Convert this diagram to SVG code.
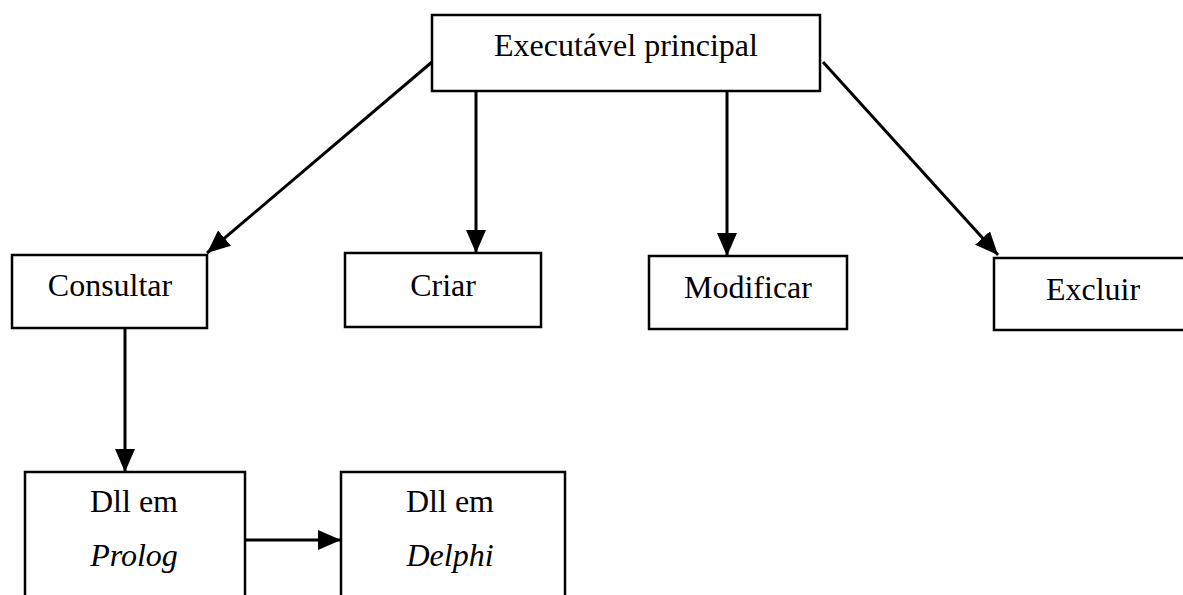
<svg xmlns="http://www.w3.org/2000/svg" width="1183" height="595" viewBox="0 0 1183 595">
<style>
.box{fill:#fff;stroke:#000;stroke-width:2.5}
.t{font-family:"Liberation Serif","Times New Roman",serif;font-size:32px;fill:#000;text-anchor:middle}
.i{font-style:italic}
.c{stroke:#000;stroke-width:3;fill:none}
</style>
<defs>
<marker id="ah" markerUnits="userSpaceOnUse" markerWidth="24" markerHeight="22" refX="23" refY="10" orient="auto">
<path d="M0,0 L23,10 L0,20 Z" fill="#000"/>
</marker>
</defs>
<rect width="1183" height="595" fill="#fff"/>
<g id="connectors">
<line class="c" x1="432" y1="62" x2="207" y2="253" marker-end="url(#ah)"/>
<line class="c" x1="476" y1="91" x2="476" y2="253" marker-end="url(#ah)"/>
<line class="c" x1="727" y1="91" x2="727" y2="256" marker-end="url(#ah)"/>
<line class="c" x1="823" y1="62" x2="998" y2="255" marker-end="url(#ah)"/>
<line class="c" x1="125" y1="328" x2="125" y2="472" marker-end="url(#ah)"/>
<line class="c" x1="245" y1="540" x2="341" y2="540" marker-end="url(#ah)"/>
</g>
<g id="main">
<rect class="box" x="432" y="15" width="388" height="76"/>
<text class="t" x="626" y="56">Executável principal</text>
</g>
<g id="consultar">
<rect class="box" x="12" y="255" width="195" height="73"/>
<text class="t" x="110" y="296">Consultar</text>
</g>
<g id="criar">
<rect class="box" x="345" y="253" width="196" height="74"/>
<text class="t" x="443" y="296">Criar</text>
</g>
<g id="modificar">
<rect class="box" x="649" y="256" width="198" height="73"/>
<text class="t" x="748" y="298">Modificar</text>
</g>
<g id="excluir">
<rect class="box" x="994" y="258" width="200" height="72"/>
<text class="t" x="1093" y="300">Excluir</text>
</g>
<g id="dll-prolog">
<rect class="box" x="25" y="472" width="220" height="140"/>
<text class="t" x="134" y="512">Dll em</text>
<text class="t i" x="134" y="566">Prolog</text>
</g>
<g id="dll-delphi">
<rect class="box" x="341" y="472" width="224" height="140"/>
<text class="t" x="450" y="512">Dll em</text>
<text class="t i" x="450" y="566">Delphi</text>
</g>
</svg>
